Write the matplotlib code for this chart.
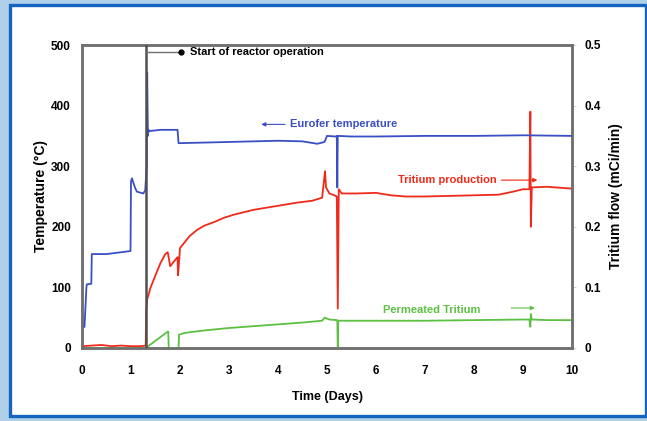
import matplotlib
matplotlib.use("Agg")
import matplotlib.pyplot as plt
from matplotlib.patches import Rectangle

plt.rcParams['font.family'] = ['Liberation Sans', 'DejaVu Sans']
plt.rcParams['font.weight'] = 'bold'

# Eurofer temperature (°C), left axis
temp_t = [0.05, 0.06, 0.09, 0.10, 0.19, 0.20, 0.5, 0.99, 1.0, 1.02, 1.08, 1.12, 1.25, 1.29,
          1.32, 1.33, 1.345, 1.36, 1.38, 1.6, 1.95, 1.97, 2.5, 3.0, 3.5, 4.0, 4.5, 4.8,
          4.95, 5.0, 5.18, 5.2, 5.21, 5.22, 5.5, 6.0, 7.0, 8.0, 9.0, 10.0]
temp_v = [35, 50, 100, 105, 106, 155, 155, 160, 275, 280, 265, 258, 255, 260,
          300, 455, 350, 360, 358, 360, 360, 338, 339, 340, 341, 342, 341, 337,
          340, 350, 349, 350, 265, 350, 349, 349, 350, 350, 351, 350]

# Tritium production (mCi/min), right axis
prod_t = [0.0, 0.2, 0.4, 0.6, 0.8, 1.0, 1.2, 1.30, 1.31, 1.33, 1.4, 1.5, 1.6, 1.7, 1.75,
          1.8, 1.85, 1.9, 1.95, 1.96, 1.97, 2.0, 2.1, 2.2, 2.35, 2.5, 2.7, 2.9, 3.1, 3.3,
          3.5, 3.8, 4.1, 4.4, 4.7, 4.9, 4.96, 4.98, 5.05, 5.15, 5.2, 5.22, 5.24, 5.3,
          5.6, 6.0, 6.3, 6.6, 7.0, 7.5, 8.0, 8.5, 8.8, 9.0, 9.13, 9.15, 9.16, 9.18,
          9.5, 10.0]
prod_v = [0.003, 0.004, 0.005, 0.003, 0.004, 0.003, 0.003, 0.004, 0.06, 0.08, 0.10, 0.12,
          0.14, 0.155, 0.158, 0.135, 0.14, 0.145, 0.15, 0.12, 0.13, 0.165, 0.175, 0.185,
          0.195, 0.202, 0.208, 0.215, 0.22, 0.224, 0.228, 0.232, 0.236, 0.24, 0.243,
          0.248, 0.292, 0.265, 0.255, 0.252, 0.25, 0.065, 0.262, 0.255, 0.255, 0.256,
          0.252, 0.25, 0.25, 0.251, 0.252, 0.253, 0.258, 0.262, 0.262, 0.39, 0.2,
          0.265, 0.266, 0.263]

# Permeated tritium (mCi/min), right axis
perm_t = [0.0, 1.30, 1.75, 1.76, 1.77, 1.97, 1.98, 2.1, 2.5, 3.0, 3.5, 4.0, 4.5, 4.9, 4.95,
          5.05, 5.2, 5.21, 5.22, 5.23, 5.5, 6.0, 7.0, 8.0, 9.0, 9.13, 9.15, 9.16, 9.18,
          9.5, 10.0]
perm_v = [0.0, 0.0, 0.027, 0.027, 0.0, 0.0, 0.022, 0.025, 0.029, 0.033, 0.036, 0.039,
          0.042, 0.045, 0.05, 0.047, 0.046, 0.046, 0.0, 0.045, 0.045, 0.045, 0.045, 0.046,
          0.047, 0.047, 0.035, 0.056, 0.047, 0.046, 0.046]

start_day = 1.3
x_ticks = list(range(0, 11))
left_ticks = [0, 100, 200, 300, 400, 500]
right_ticks = [0, 0.1, 0.2, 0.3, 0.4, 0.5]
right_labels = ['0', '0.1', '0.2', '0.3', '0.4', '0.5']

BLUE = '#3a4fc4'
RED = '#f02a1a'
GREEN = '#5cc043'
FRAME = '#707070'

fig = plt.figure(figsize=(6.47, 4.21), dpi=100)
fig.patch.set_facecolor('#b0d0ea')
fig.patches.append(Rectangle((10 / 647, 5 / 421), 636 / 647, 411 / 421,
                             transform=fig.transFigure, facecolor='white',
                             edgecolor='#1565c0', linewidth=2.4, zorder=-5))

ax = fig.add_axes([82 / 647, 1 - 348 / 421, 490 / 647, 303 / 421])
ax2 = ax.twinx()
ax.set_zorder(2)
ax2.set_zorder(1)
ax.patch.set_visible(False)
ax2.patch.set_visible(False)

ax.plot(temp_t, temp_v, color=BLUE, lw=1.3, zorder=3)
ax2.plot(prod_t, prod_v, color=RED, lw=1.3, zorder=3)
ax2.plot(perm_t, perm_v, color=GREEN, lw=1.3, zorder=3)

ax.set_xlim(0, 10)
ax.set_ylim(0, 500)
ax2.set_ylim(0, 0.5)
ax.set_xticks(x_ticks)
ax.set_yticks(left_ticks)
ax2.set_yticks(right_ticks)
ax2.set_yticklabels(right_labels)

for a in (ax, ax2):
    for s in a.spines.values():
        s.set_color(FRAME)
        s.set_linewidth(1.8)
    a.tick_params(labelsize=8.5, colors='black', length=3, width=0.6, pad=6)
    a.tick_params(axis='both', color='#c8c8c8')
ax.tick_params(axis='x', length=0, pad=12)
ax.tick_params(axis='y', length=0, pad=8)

ax.set_xlabel('Time (Days)', fontsize=9, fontweight='bold', labelpad=10)
ax.set_ylabel('Temperature (°C)', fontsize=10, fontweight='bold', labelpad=2)
ax2.set_ylabel('Tritium flow (mCi/min)', fontsize=10, fontweight='bold', labelpad=6)

# reactor start marker
ax.axvline(start_day, color='#505050', lw=1.8, zorder=4)
ax.plot([start_day, 2.02], [488, 488], color='#707070', lw=1.0, zorder=4)
ax.plot([2.02], [488], marker='o', color='black', ms=3.5, zorder=5)
ax.text(2.2, 488, 'Start of reactor operation', fontsize=8, fontweight='bold',
        va='center', ha='left')

# series annotations
ax.annotate('', xy=(3.6, 369), xytext=(4.2, 369),
            arrowprops=dict(arrowstyle='-|>', color=BLUE, lw=0.8, mutation_scale=6))
ax.text(4.25, 369, 'Eurofer temperature', color=BLUE, fontsize=8,
        va='center', ha='left')
ax2.text(6.45, 0.277, 'Tritium production', color=RED, fontsize=8,
         va='center', ha='left')
ax2.annotate('', xy=(9.35, 0.277), xytext=(8.5, 0.277),
             arrowprops=dict(arrowstyle='-|>', color=RED, lw=0.8, mutation_scale=6))
ax2.text(6.15, 0.063, 'Permeated Tritium', color=GREEN, fontsize=8,
         va='center', ha='left')
ax2.annotate('', xy=(9.3, 0.066), xytext=(8.7, 0.066),
             arrowprops=dict(arrowstyle='-|>', color=GREEN, lw=0.8, mutation_scale=6))

fig.savefig('out.png', dpi=100, facecolor=fig.get_facecolor())
